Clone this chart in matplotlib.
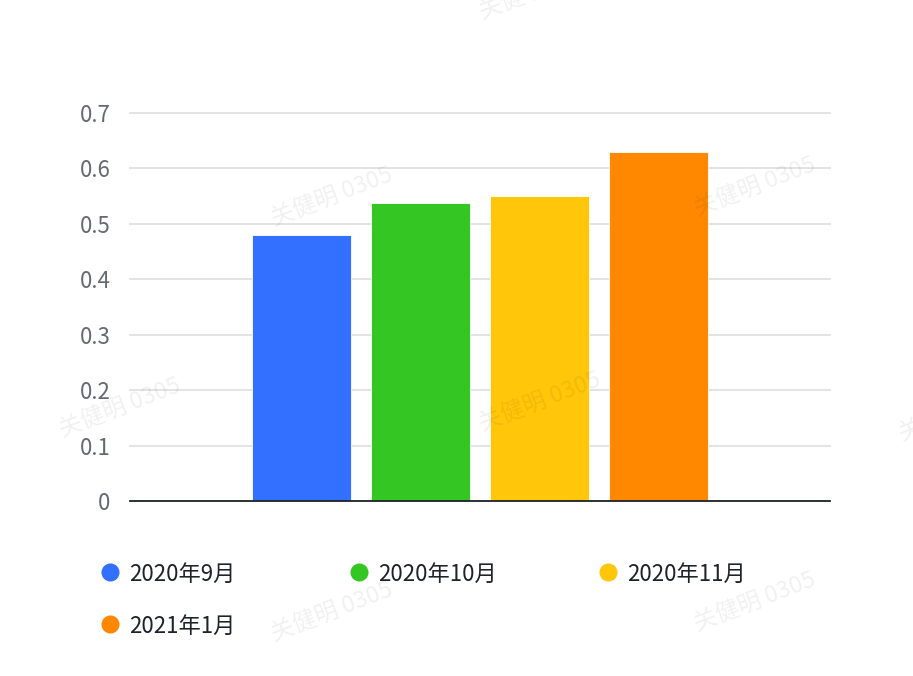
import matplotlib
matplotlib.use("Agg")
import matplotlib.pyplot as plt
from matplotlib.lines import Line2D

plt.rcParams['font.family'] = ['Noto Sans CJK SC', 'DejaVu Sans']

series_names = ["2020年9月", "2020年10月", "2020年11月", "2021年1月"]
series_values = [0.48, 0.538, 0.551, 0.63]
series_colors = ["#3370FF", "#34C724", "#FFC60A", "#FF8800"]
y_ticks = [0, 0.1, 0.2, 0.3, 0.4, 0.5, 0.6, 0.7]
y_tick_labels = ["0", "0.1", "0.2", "0.3", "0.4", "0.5", "0.6", "0.7"]

W, H = 913, 676
fig = plt.figure(figsize=(W / 100, H / 100), dpi=100)
ax = fig.add_axes([130 / W, 1 - 501 / H, 700 / W, (501 - 113) / H])

n = len(series_values)
step = 119 / 700
bw = 99 / 700
for i, (v, c) in enumerate(zip(series_values, series_colors)):
    off = (i - (n - 1) / 2) * step
    ax.bar(off, v, width=bw, color=c, zorder=3, edgecolor="white", linewidth=0.6)

ax.set_xlim(-0.5, 0.5)
ax.set_ylim(0, 0.7)
ax.set_yticks(y_ticks)
ax.set_yticklabels(y_tick_labels)
ax.set_xticks([])
ax.grid(axis='y', color="#DEE0E3", linewidth=1.3, zorder=0)
for gl in ax.get_ygridlines():
    gl.set_clip_on(False)
for s in ["top", "right", "left"]:
    ax.spines[s].set_visible(False)
ax.spines["bottom"].set_color("#1F2329")
ax.spines["bottom"].set_linewidth(1.3)
ax.spines["bottom"].set_zorder(4)
ax.tick_params(axis='y', length=0, pad=14, labelsize=16, labelcolor="#646A73")

# legend (manual grid)
col_x = [110, 359, 608]
row_y = [572, 624]
for i, (name, c) in enumerate(zip(series_names, series_colors)):
    r, col = divmod(i, 3)
    x = col_x[col]
    y = row_y[r]
    fig.add_artist(Line2D([x / W], [1 - y / H], marker='o', markersize=13,
                          color=c, markeredgewidth=0, linestyle='none',
                          transform=fig.transFigure))
    fig.text((x + 19) / W, 1 - y / H, name, fontsize=16, color="#1F2329",
             ha='left', va='center_baseline')

# watermark
wm_pos = [(332, 197), (755, 187), (120, 408), (540, 402), (960, 412),
          (332, 612), (755, 602), (540, -10)]
for (x, y) in wm_pos:
    fig.text(x / W, 1 - y / H, "关健明 0305", fontsize=17, color="#000000",
             alpha=0.06, rotation=21, ha='center', va='center', zorder=10)

fig.savefig("out.png", dpi=100)
